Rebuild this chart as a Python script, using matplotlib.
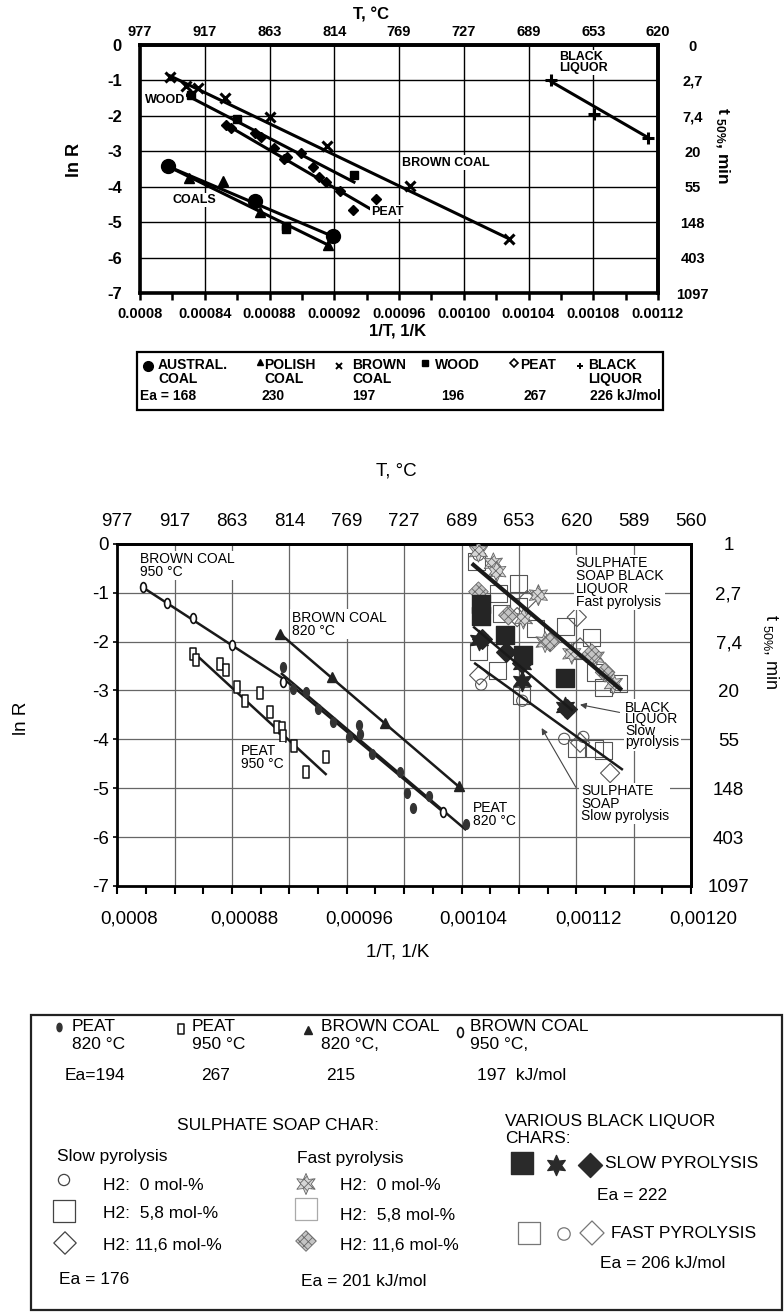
import matplotlib.pyplot as plt
from matplotlib.path import Path
from matplotlib.transforms import Affine2D, ScaledTranslation
from matplotlib.patches import Rectangle
from matplotlib.ticker import MultipleLocator

plt.rcParams['font.family'] = ['Liberation Sans', 'DejaVu Sans']
plt.rcParams['mathtext.default'] = 'regular'
plt.rcParams['hatch.linewidth'] = 0.6
NARROW = ['Liberation Sans Narrow', 'Liberation Sans', 'DejaVu Sans']

W, H = 784, 1312

# ---------------- upper chart: coals, wood, peat, black liquor ----------------
inv_t_ticks_1 = [0.0008, 0.00084, 0.00088, 0.00092, 0.00096, 0.00100, 0.00104, 0.00108, 0.00112]
inv_t_labels_1 = ['0.0008', '0.00084', '0.00088', '0.00092', '0.00096', '0.00100',
                  '0.00104', '0.00108', '0.00112']
temp_labels_1 = ['977', '917', '863', '814', '769', '727', '689', '653', '620']
ln_r_ticks = [0, -1, -2, -3, -4, -5, -6, -7]
t50_labels_1 = ['0', '2,7', '7,4', '20', '55', '148', '403', '1097']

austral_x = [0.000817, 0.000871, 0.000919]
austral_y = [-3.42, -4.40, -5.40]
austral_fit_x = [0.000817, 0.000919]
austral_fit_y = [-3.42, -5.40]

polish_x = [0.000830, 0.000851, 0.000874, 0.000916]
polish_y = [-3.76, -3.83, -4.72, -5.64]
polish_fit_x = [0.000817, 0.000916]
polish_fit_y = [-3.42, -5.64]

brown_x = [0.0008185, 0.0008284, 0.0008361, 0.0008525, 0.0008803, 0.0009158, 0.0009668, 0.001028]
brown_y = [-0.89, -1.17, -1.21, -1.49, -2.04, -2.84, -3.99, -5.47]
brown_fit_x = [0.0008185, 0.001028]
brown_fit_y = [-0.87, -5.47]

wood_x = [0.0008315, 0.00086, 0.000932, 0.000890, 0.000890]
wood_y = [-1.41, -2.09, -3.67, -5.10, -5.20]
wood_fit_x = [0.0008284, 0.0009322]
wood_fit_y = [-1.41, -3.87]

peat_x = [0.0008531, 0.000856, 0.000871, 0.0008747, 0.0008828, 0.000889, 0.0008911,
          0.0008995, 0.0009066, 0.0009106, 0.0009149, 0.0009236, 0.0009313, 0.0009458]
peat_y = [-2.25, -2.34, -2.49, -2.60, -2.91, -3.21, -3.17, -3.05, -3.45, -3.73, -3.87,
          -4.13, -4.65, -4.36]
peat_fit_x = [0.0008525, 0.0009421]
peat_fit_y = [-2.23, -4.62]

liquor_x = [0.0010539, 0.0010805, 0.0011141]
liquor_y = [-1.00, -1.95, -2.62]
liquor_fit_x = [0.0010539, 0.0011141]
liquor_fit_y = [-1.03, -2.62]

legend1_names = ['AUSTRAL.\nCOAL', 'POLISH\nCOAL', 'BROWN\nCOAL', 'WOOD', 'PEAT', 'BLACK\nLIQUOR']
legend1_ea = ['Ea = 168', '230', '197', '196', '267', '226 kJ/mol']

# ---------------- lower chart: brown coal, peat, sulphate soap, black liquor ----------------
inv_t_ticks_2 = [0.0008, 0.00088, 0.00096, 0.00104, 0.00112, 0.00120]
inv_t_labels_2 = ['0,0008', '0,00088', '0,00096', '0,00104', '0,00112', '0,00120']
temp_ticks_2 = [0.0008, 0.00084, 0.00088, 0.00092, 0.00096, 0.00100, 0.00104, 0.00108,
                0.00112, 0.00116, 0.00120]
temp_labels_2 = ['977', '917', '863', '814', '769', '727', '689', '653', '620', '589', '560']
t50_labels_2 = ['1', '2,7', '7,4', '20', '55', '148', '403', '1097']

bc950_x = [0.0008177, 0.0008344, 0.0008526, 0.0008798, 0.0009153, 0.0010274]
bc950_y = [-0.89, -1.22, -1.51, -2.06, -2.83, -5.49]
bc950_fit_x = [0.0008177, 0.0009163, 0.0010274]
bc950_fit_y = [-0.89, -2.77, -5.49]

bc820_x = [0.0009135, 0.0009495, 0.0009867, 0.001038]
bc820_y = [-1.85, -2.73, -3.67, -4.95]
bc820_fit_x = [0.0009135, 0.001039]
bc820_fit_y = [-1.84, -4.99]

peat820_x = [0.0009153, 0.0009228, 0.0009316, 0.0009402, 0.0009502, 0.0009612, 0.0009686,
             0.0009693, 0.0009774, 0.0009972, 0.0010019, 0.0010065, 0.001017, 0.0010433]
peat820_y = [-2.51, -2.97, -3.03, -3.38, -3.65, -3.96, -3.70, -3.89, -4.30, -4.66, -5.09,
             -5.40, -5.16, -5.74]
peat820_fit_x = [0.0009147, 0.0010426]
peat820_fit_y = [-2.66, -5.84]

peat950_x = [0.0008526, 0.0008549, 0.0008716, 0.0008756, 0.0008833, 0.0008891, 0.0008995,
             0.0009065, 0.0009112, 0.0009151, 0.0009153, 0.0009235, 0.0009314, 0.0009453]
peat950_y = [-2.26, -2.37, -2.45, -2.58, -2.93, -3.22, -3.06, -3.45, -3.74, -3.77, -3.93,
             -4.13, -4.66, -4.37]
peat950_fit_x = [0.0008553, 0.0009453]
peat950_fit_y = [-2.28, -4.71]

fast_fit_x = [0.0010483, 0.0011506]
fast_fit_y = [-0.43, -2.97]
bl_slow_fit_x = [0.0010488, 0.0011169]
bl_slow_fit_y = [-1.71, -3.40]
soap_slow_fit_x = [0.0010495, 0.0011518]
soap_slow_fit_y = [-2.45, -4.61]

open_sq_x = [0.0010507, 0.0010657, 0.0010681, 0.0010797, 0.0010797, 0.0010913, 0.0011122,
             0.0011309, 0.0011239, 0.0010516, 0.0010648, 0.0010816, 0.0011331, 0.0011387,
             0.0011492, 0.0011199, 0.0011324, 0.0011387]
open_sq_y = [-0.37, -1.02, -1.43, -0.81, -1.29, -1.74, -1.70, -1.91, -2.18, -2.20, -2.59,
             -3.10, -2.63, -2.94, -2.86, -4.19, -4.19, -4.23]
open_circ_x = [0.0010518, 0.0010537, 0.0010823, 0.0011116, 0.0011249]
open_circ_y = [-0.23, -2.88, -3.21, -3.99, -3.95]
open_dia_x = [0.0010523, 0.0010857, 0.0010788, 0.0011227, 0.0011204, 0.0011227, 0.0011436]
open_dia_y = [-2.69, -1.15, -1.50, -2.12, -1.50, -4.07, -4.69]
bl_sq_x = [0.0010537, 0.0010537, 0.0010705, 0.0010830, 0.0011123]
bl_sq_y = [-1.24, -1.48, -1.87, -2.28, -2.74]
bl_star_x = [0.0010525, 0.0010821, 0.0010821, 0.0011124]
bl_star_y = [-1.96, -2.45, -2.80, -3.33]
bl_dia_x = [0.0010541, 0.0010711, 0.0010822, 0.0011136]
bl_dia_y = [-1.94, -2.22, -2.43, -3.37]
fast_star_x = [0.0010518, 0.0010622, 0.0010646, 0.0010936, 0.0010832, 0.0010983, 0.0011169,
               0.0011332, 0.0011459]
fast_star_y = [-0.16, -0.40, -0.57, -1.05, -1.53, -2.01, -2.25, -2.32, -2.86]
fast_dia_x = [0.0010518, 0.0010727, 0.0011018, 0.0011309, 0.0011401]
fast_dia_y = [-0.98, -1.46, -2.01, -2.25, -2.63]

legend2_groups = ['PEAT\n820 °C', 'PEAT\n950 °C', 'BROWN COAL\n820 °C,', 'BROWN COAL\n950 °C,']
legend2_ea = ['Ea=194', '267', '215', '197  kJ/mol']
h2_levels = ['H2:  0 mol-%', 'H2:  5,8 mol-%', 'H2: 11,6 mol-%']
ea_soap_slow, ea_soap_fast = 176, 201
ea_bl_slow, ea_bl_fast = 222, 206

# marker shapes
tall_oval = Path.unit_circle().transformed(Affine2D().scale(0.6, 1.0))
tall_rect = Path([(-0.55, -1), (0.55, -1), (0.55, 1), (-0.55, 1), (-0.55, -1)], closed=True)
star6 = (6, 1, 0)

fig = plt.figure(figsize=(W / 100, H / 100), dpi=100)


def px_axes(left, top, right, bottom):
    return fig.add_axes([left / W, 1 - bottom / H, (right - left) / W, (bottom - top) / H])


# ======================= chart 1 =======================
ax1 = px_axes(140, 45, 658, 293)
ax1.set_xlim(0.0008, 0.00112)
ax1.set_ylim(-7, 0)
bfont = dict(family=NARROW, weight='bold')

ax1.set_xticks(inv_t_ticks_1)
ax1.set_xticklabels(inv_t_labels_1, fontsize=10.5, **bfont)
ax1.xaxis.set_minor_locator(MultipleLocator(0.00002))
ax1.tick_params(axis='x', which='both', direction='out', length=5, width=1.8, pad=5)
ax1.set_yticks(ln_r_ticks)
ax1.set_yticklabels([str(v) for v in ln_r_ticks], fontsize=12, **bfont)
ax1.tick_params(axis='y', length=0, pad=13)
ax1.grid(True, which='major', color='black', lw=1.0)
for sp in ax1.spines.values():
    sp.set_linewidth(2.6)

top1 = ax1.secondary_xaxis('top')
top1.set_xticks(inv_t_ticks_1)
top1.set_xticklabels(temp_labels_1, fontsize=10.5, **bfont)
top1.tick_params(length=0, pad=4)
top1.spines['top'].set_linewidth(2.6)

right1 = ax1.secondary_yaxis('right')
right1.set_yticks(ln_r_ticks)
right1.set_yticklabels(t50_labels_1, fontsize=10.5, **bfont)
right1.tick_params(length=0, pad=25)
for lab in right1.get_yticklabels():
    lab.set_ha('center')
right1.spines['right'].set_linewidth(2.6)

ax1.plot(brown_fit_x, brown_fit_y, color='black', lw=2.2, zorder=3)
ax1.plot(wood_fit_x, wood_fit_y, color='black', lw=2.2, zorder=3)
ax1.plot(peat_fit_x, peat_fit_y, color='black', lw=2.2, zorder=3)
ax1.plot(austral_fit_x, austral_fit_y, color='black', lw=2.2, zorder=3)
ax1.plot(polish_fit_x, polish_fit_y, color='black', lw=2.2, zorder=3)
ax1.plot(liquor_fit_x, liquor_fit_y, color='black', lw=2.2, zorder=3)

ax1.plot(brown_x, brown_y, 'x', color='black', ms=7, mew=2.2, zorder=4)
ax1.plot(wood_x, wood_y, 's', color='black', ms=6, zorder=4)
ax1.plot(peat_x, peat_y, 'D', color='black', ms=5, zorder=4)
ax1.plot(austral_x, austral_y, 'o', color='black', ms=10, zorder=4)
ax1.plot(polish_x, polish_y, '^', color='black', ms=7, zorder=4)
ax1.plot(liquor_x, liquor_y, '+', color='black', ms=8, mew=2.2, zorder=4)

lbl1 = dict(fontsize=9, va='center', ha='left', zorder=5,
            bbox=dict(boxstyle='square,pad=0.1', fc='white', ec='none'), **bfont)
ax1.text(0.000803, -1.55, 'WOOD', **lbl1)
ax1.text(0.0009619, -3.32, 'BROWN COAL', **lbl1)
ax1.text(0.0008198, -4.37, 'COALS', **lbl1)
ax1.text(0.0009427, -4.71, 'PEAT', **lbl1)
ax1.text(0.0010588, -0.50, 'BLACK\nLIQUOR', linespacing=0.85, **lbl1)

# ======================= chart 2 =======================
ax2 = px_axes(117.3, 543.8, 691, 886)
ax2.set_xlim(0.0008, 0.0012)
ax2.set_ylim(-7, 0)
ax2.xaxis.set_minor_locator(MultipleLocator(0.00002))
ax2.set_xticks(inv_t_ticks_2)
ax2.set_xticklabels(inv_t_labels_2, fontsize=13.5)
ax2.tick_params(axis='x', which='both', direction='out', length=6, width=1.5, pad=12)
shift = ScaledTranslation(12 / 100, 0, fig.dpi_scale_trans)
for lab in ax2.get_xticklabels():
    lab.set_transform(lab.get_transform() + shift)
ax2.set_yticks(ln_r_ticks)
ax2.set_yticklabels([str(v) for v in ln_r_ticks], fontsize=13.5)
ax2.tick_params(axis='y', length=3, width=1.2, pad=3)
for gx in temp_ticks_2[1:-1]:
    ax2.axvline(gx, color='#666666', lw=0.9, zorder=0)
for gy in ln_r_ticks[1:-1]:
    ax2.axhline(gy, color='#666666', lw=0.9, zorder=0)
for sp in ax2.spines.values():
    sp.set_linewidth(2.0)

top2 = ax2.secondary_xaxis('top')
top2.set_xticks(temp_ticks_2)
top2.set_xticklabels(temp_labels_2, fontsize=13.5)
top2.tick_params(length=0, pad=10)
top2.spines['top'].set_linewidth(2.0)

right2 = ax2.secondary_yaxis('right')
right2.set_yticks(ln_r_ticks)
right2.set_yticklabels(t50_labels_2, fontsize=13.5)
right2.tick_params(length=0, pad=27)
for lab in right2.get_yticklabels():
    lab.set_ha('center')
right2.spines['right'].set_linewidth(2.0)

line_kw = dict(color='#1a1a1a', lw=1.8, zorder=4)
ax2.plot(bc950_fit_x, bc950_fit_y, **line_kw)
ax2.plot(bc820_fit_x, bc820_fit_y, **line_kw)
ax2.plot(peat820_fit_x, peat820_fit_y, **line_kw)
ax2.plot(peat950_fit_x, peat950_fit_y, **line_kw)
ax2.plot(fast_fit_x, fast_fit_y, color='#1a1a1a', lw=3.0, zorder=4)
ax2.plot(bl_slow_fit_x, bl_slow_fit_y, **line_kw)
ax2.plot(soap_slow_fit_x, soap_slow_fit_y, **line_kw)

ax2.plot(bc950_x, bc950_y, ls='none', marker=tall_oval, ms=7, mfc='white', mec='#111', mew=1.2, zorder=5)
ax2.plot(bc820_x, bc820_y, ls='none', marker='^', ms=7, color='#222', zorder=5)
ax2.plot(peat820_x, peat820_y, ls='none', marker=tall_oval, ms=7, color='#333', zorder=5)
ax2.plot(peat950_x, peat950_y, ls='none', marker=tall_rect, ms=8, mfc='white', mec='#111', mew=1.1, zorder=5)

ax2.scatter(open_sq_x, open_sq_y, marker='s', s=150, facecolors='none', edgecolors='#555', linewidths=0.8, zorder=2)
ax2.scatter(open_circ_x, open_circ_y, marker='o', s=65, facecolors='none', edgecolors='#555', linewidths=0.8, zorder=2)
ax2.scatter(open_dia_x, open_dia_y, marker='D', s=95, facecolors='none', edgecolors='#555', linewidths=0.8, zorder=2)
ax2.scatter(fast_star_x, fast_star_y, marker=star6, s=230, facecolors='#d6d6d6', edgecolors='#666',
            hatch='xxxx', linewidths=0.6, zorder=3)
ax2.scatter(fast_dia_x, fast_dia_y, marker='D', s=100, facecolors='#c4c4c4', edgecolors='#666',
            hatch='xxxx', linewidths=0.6, zorder=3)
ax2.scatter(bl_sq_x, bl_sq_y, marker='s', s=170, color='#252525', zorder=3)
ax2.scatter(bl_star_x, bl_star_y, marker=star6, s=210, color='#252525', zorder=3)
ax2.scatter(bl_dia_x, bl_dia_y, marker='D', s=100, color='#252525', zorder=3)

lbl2 = dict(fontsize=10, va='top', ha='left', linespacing=0.9, zorder=6,
            bbox=dict(boxstyle='square,pad=0.1', fc='white', ec='none'))
ax2.text(0.0008158, -0.17, 'BROWN COAL\n950 °C', **lbl2)
ax2.text(0.0009216, -1.37, 'BROWN COAL\n820 °C', **lbl2)
ax2.text(0.0008864, -4.09, 'PEAT\n950 °C', **lbl2)
ax2.text(0.0010479, -5.26, 'PEAT\n820 °C', **lbl2)
ax2.text(0.0011195, -0.25, 'SULPHATE\nSOAP BLACK\nLIQUOR\nFast pyrolysis', **lbl2)
lbl2['linespacing'] = 0.78
ax2.text(0.0011542, -3.21, 'BLACK\nLIQUOR\nSlow\npyrolysis', **lbl2)
lbl2['linespacing'] = 0.85
ax2.text(0.0011232, -4.92, 'SULPHATE\nSOAP\nSlow pyrolysis', **lbl2)
arrow_kw = dict(arrowstyle='-|>', color='#444', lw=0.8, mutation_scale=9)
ax2.annotate('', xy=(0.0011207, -3.28), xytext=(0.0011521, -3.46), arrowprops=arrow_kw, zorder=6)
ax2.annotate('', xy=(0.0010949, -3.72), xytext=(0.0011207, -5.03), arrowprops=arrow_kw, zorder=6)

# ======================= axis titles and legend boxes =======================
ov = fig.add_axes([0, 0, 1, 1])
ov.set_xlim(0, W)
ov.set_ylim(H, 0)
ov.axis('off')
ov.patch.set_visible(False)

ov.text(371, 15, 'T, °C', fontsize=12, ha='center', va='center', **bfont)
ov.text(75, 160, 'ln R', fontsize=13, rotation=90, ha='center', va='center', **bfont)
ov.text(722, 145, 't $_{50\\%}$, min', fontsize=12.5, rotation=-90, ha='center', va='center', **bfont)
ov.text(398, 331, '1/T, 1/K', fontsize=12, ha='center', va='center', **bfont)

ov.text(396, 471, 'T, °C', fontsize=13.5, ha='center', va='center')
ov.text(22, 718, 'ln R', fontsize=13.5, rotation=90, ha='center', va='center')
ov.text(771, 652, 't $_{50\\%}$, min', fontsize=13, rotation=-90, ha='center', va='center')
ov.text(398, 952, '1/T, 1/K', fontsize=13.5, ha='center', va='center')

# legend box for chart 1
ov.add_patch(Rectangle((137, 352), 526, 58, fill=False, ec='black', lw=1.6))
sym1_x = [148, 260, 339, 425, 514, 580]
sym1_y = [366, 362, 366, 363, 363, 366]
name1_x = [158, 264, 352, 435, 520, 588]
ea1_x = [140, 262, 352, 441, 524, 590]
ov.plot(sym1_x[0], sym1_y[0], 'o', color='black', ms=7)
ov.plot(sym1_x[1], sym1_y[1], '^', color='black', ms=4)
ov.plot(sym1_x[2], sym1_y[2], 'x', color='black', ms=5, mew=1.4)
ov.plot(sym1_x[3], sym1_y[3], 's', color='black', ms=5)
ov.plot(sym1_x[4], sym1_y[4], 'D', mfc='white', mec='black', ms=4, mew=1.2)
ov.plot(sym1_x[5], sym1_y[5], '+', color='black', ms=5, mew=1.4)
for nx, name in zip(name1_x, legend1_names):
    ov.text(nx, 358, name, fontsize=10, ha='left', va='top', linespacing=1.0, **bfont)
for ex, ea in zip(ea1_x, legend1_ea):
    ov.text(ex, 396, ea, fontsize=10, ha='left', va='center', **bfont)

# legend box for chart 2
ov.add_patch(Rectangle((31, 1015), 751, 295, fill=False, ec='#222', lw=1.6))
sym2_x = [59, 181, 308, 460]
name2_x = [72, 192, 321, 470]
ea2_x = [65, 201, 326, 477]
ov.plot(sym2_x[0], 1027, ls='none', marker=tall_oval, ms=6, color='#333')
ov.plot(sym2_x[1], 1029, ls='none', marker=tall_rect, ms=7, mfc='white', mec='#111', mew=1.1)
ov.plot(sym2_x[2], 1030, ls='none', marker='^', ms=6, color='#222')
ov.plot(sym2_x[3], 1032, ls='none', marker=tall_oval, ms=7, mfc='white', mec='#111', mew=1.2)
for nx, name in zip(name2_x, legend2_groups):
    ov.text(nx, 1019, name, fontsize=12.5, ha='left', va='top', linespacing=1.25)
for ex, ea in zip(ea2_x, legend2_ea):
    ov.text(ex, 1076, ea, fontsize=12.5, ha='left', va='center')

ov.text(177, 1126, 'SULPHATE SOAP CHAR:', fontsize=12.5, ha='left', va='center')
ov.text(505, 1130, 'VARIOUS BLACK LIQUOR\nCHARS:', fontsize=12.5, ha='left', va='center', linespacing=1.2)
ov.text(57, 1157, 'Slow pyrolysis', fontsize=12.5, ha='left', va='center')
ov.text(297, 1158, 'Fast pyrolysis', fontsize=12.5, ha='left', va='center')

rows_y = [1185, 1214, 1245]
ov.scatter([64], [1180], marker='o', s=65, facecolors='none', edgecolors='#444', linewidths=0.9)
ov.scatter([64], [1211], marker='s', s=230, facecolors='none', edgecolors='#444', linewidths=0.9)
ov.scatter([65], [1243], marker='D', s=130, facecolors='none', edgecolors='#444', linewidths=0.9)
ov.scatter([306], [1184], marker=star6, s=230, facecolors='#d6d6d6', edgecolors='#666', hatch='xxxx', linewidths=0.6)
ov.scatter([306], [1209], marker='s', s=230, facecolors='none', edgecolors='#aaa', linewidths=0.9)
ov.scatter([306], [1241], marker='D', s=110, facecolors='#c4c4c4', edgecolors='#666', hatch='xxxx', linewidths=0.6)
for ry, h2 in zip(rows_y, h2_levels):
    ov.text(103, ry, h2, fontsize=12.5, ha='left', va='center')
    ov.text(340, ry + 1, h2, fontsize=12.5, ha='left', va='center')

ov.scatter([522], [1163], marker='s', s=260, color='#2a2a2a')
ov.scatter([556], [1165], marker=star6, s=210, color='#2a2a2a')
ov.scatter([590], [1165], marker='D', s=150, color='#2a2a2a')
ov.text(605, 1163, 'SLOW PYROLYSIS', fontsize=12.5, ha='left', va='center', family=NARROW)
ov.text(597, 1195, f'Ea = {ea_bl_slow}', fontsize=12.5, ha='left', va='center')
ov.scatter([529], [1233], marker='s', s=260, facecolors='none', edgecolors='#777', linewidths=0.9)
ov.scatter([564], [1234], marker='o', s=80, facecolors='none', edgecolors='#777', linewidths=0.9)
ov.scatter([592], [1233], marker='D', s=150, facecolors='none', edgecolors='#777', linewidths=0.9)
ov.text(611, 1233, 'FAST PYROLYSIS', fontsize=12.5, ha='left', va='center', family=NARROW)
ov.text(600, 1264, f'Ea = {ea_bl_fast} kJ/mol', fontsize=12.5, ha='left', va='center')
ov.text(59, 1280, f'Ea = {ea_soap_slow}', fontsize=12.5, ha='left', va='center')
ov.text(301, 1282, f'Ea = {ea_soap_fast} kJ/mol', fontsize=12.5, ha='left', va='center')

fig.savefig('out.png', dpi=100, facecolor='white')
